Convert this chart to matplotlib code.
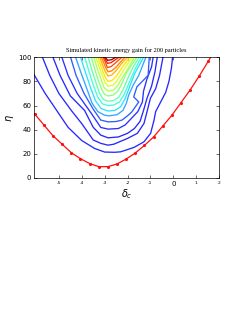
import matplotlib
matplotlib.use('Agg')
import matplotlib.pyplot as plt
import numpy as np

# red boundary curve (dots every 0.4 in delta_c)
red_x = [-6.06, -5.66, -5.26, -4.86, -4.46, -4.06, -3.66, -3.26, -2.86, -2.46, -2.06,
         -1.66, -1.26, -0.86, -0.46, -0.06, 0.34, 0.74, 1.14, 1.54, 1.94]
red_y = [53, 44, 35, 28, 21, 16, 12, 9.4, 9.4, 11.6, 15.7,
         20.7, 27, 34, 43, 52, 62.5, 73, 84.6, 97, 110]

# contour lines of the energy gain, lowest level first
contour_x = [
    [-6.1, -5.6, -5.1, -4.6, -4.0, -3.44, -3.0, -2.56, -2.3, -1.72, -1.28, -0.99, -0.84, -0.77, -0.55, -0.33, -0.19, -0.08, -0.03],
    [-5.72, -5.4, -5.0, -4.46, -4.0, -3.5, -3.17, -2.85, -2.6, -2.0, -1.57, -1.28, -1.13, -1.0, -0.77, -0.6, -0.45],
    [-5.26, -4.95, -4.5, -3.88, -3.5, -3.17, -2.85, -2.4, -2.0, -1.7, -1.45, -1.3, -1.15, -0.95, -0.8, -0.7],
    [-4.87, -4.6, -4.2, -3.6, -3.17, -2.85, -2.4, -2.1, -1.9, -1.55, -1.35, -1.3, -1.15, -0.95, -0.88],
    [-4.49, -4.25, -3.9, -3.5, -3.17, -2.85, -2.5, -2.24, -2.0, -1.81, -1.51, -1.73, -1.59, -1.1, -1.05],
    [-4.27, -4.05, -3.8, -3.55, -3.3, -3.0, -2.8, -2.45, -2.2, -2.05, -1.95, -1.75, -1.51, -1.2],
    [-4.05, -3.85, -3.6, -3.4, -3.15, -2.85, -2.55, -2.3, -2.1, -1.9, -1.7, -1.3],
    [-3.87, -3.68, -3.48, -3.3, -3.1, -2.85, -2.6, -2.35, -2.15, -1.95, -1.7, -1.4],
    [-3.72, -3.55, -3.38, -3.22, -3.05, -2.85, -2.6, -2.38, -2.2, -2.0, -1.78, -1.5],
    [-3.58, -3.43, -3.28, -3.12, -3.0, -2.85, -2.62, -2.42, -2.25, -2.05, -1.6],
    [-3.47, -3.33, -3.18, -3.03, -2.85, -2.62, -2.45, -2.1, -1.7],
    [-3.38, -3.24, -3.1, -2.98, -2.85, -2.65, -2.48, -2.15, -1.8],
    [-3.29, -3.17, -3.05, -2.95, -2.85, -2.68, -2.5, -2.2, -1.9],
    [-3.21, -3.1, -2.97, -2.85, -2.7, -2.52, -2.25, -2.0],
    [-3.14, -3.03, -2.93, -2.85, -2.7, -2.52, -2.12],
    [-3.07, -2.97, -2.88, -2.72, -2.55, -2.25],
    [-3.02, -2.93, -2.87, -2.72, -2.38],
    [-2.97, -2.87, -2.7, -2.52],
]
contour_y = [
    [86, 70, 56, 42, 31, 24.5, 21.5, 21.3, 21.7, 25.3, 30, 37, 48, 55, 63, 71, 80, 91, 100],
    [100, 85, 70, 56, 45, 31.5, 28.7, 27.2, 28, 32.8, 37, 45.2, 56.2, 66, 74, 85, 100],
    [100, 85, 68, 56, 42, 35.5, 33.3, 34, 37, 41, 47, 56, 66, 76, 88, 100],
    [100, 85, 70, 54, 41.9, 40.5, 41, 44, 48, 55, 63, 72, 82, 92, 100],
    [100, 85, 70, 57, 48, 46.5, 46.8, 48, 51.5, 54.8, 63, 67.2, 75.5, 85, 100],
    [100, 88, 75, 62, 55, 52, 51.5, 52.5, 56, 62, 68.6, 77, 85, 100],
    [100, 88, 74, 64, 57.5, 55.5, 56, 59, 66, 76, 86, 100],
    [100, 88, 76, 67, 61.5, 60, 60.5, 63, 69, 78, 89, 100],
    [100, 89, 79, 70, 65, 63.6, 64.2, 67, 73, 82, 91, 100],
    [100, 90, 81, 73, 69.2, 68, 68.8, 72, 78, 87, 100],
    [100, 91, 83, 75, 72, 72.8, 76, 87, 100],
    [100, 92, 85, 79, 76, 76.8, 80, 90, 100],
    [100, 93, 87, 82.5, 80, 80.8, 84, 92.5, 100],
    [100, 94, 88, 84.5, 85.2, 88.5, 95, 100],
    [100, 95, 90.5, 88, 88.7, 91.5, 100],
    [100, 96, 91.5, 92.3, 95, 100],
    [100, 97, 95, 95.6, 100],
    [100, 97.5, 98, 100],
]
# colour of each level (jet-like, lowest levels in blue)
level_colors = ['#2828ff', '#2828ff', '#2828ff', '#2a30ff', '#2f5cff', '#33a6ff',
                '#2fe0ff', '#40ffdc', '#6bffa6', '#8cff80', '#b0ff55', '#d8ff2c',
                '#ffe600', '#ffb400', '#ff8200', '#ff4c00', '#ff1a00', '#a00000']

xticks = [-5, -4, -3, -2, -1, 0, 1, 2]
yticks = [0, 20, 40, 60, 80, 100]

fig = plt.figure(figsize=(2.53, 3.27), dpi=100)
ax = fig.add_axes([34 / 253, (327 - 178) / 327, 185 / 253, 120.7 / 327])

for xs, ys, c in zip(contour_x, contour_y, level_colors):
    ax.plot(xs, ys, color=c, lw=0.95, solid_joinstyle='miter')

ax.plot(red_x, red_y, color='#ff1010', lw=0.9, marker='.', ms=2.5)

ax.set_xlim(-6.09, 2)
ax.set_ylim(0, 100)
ax.set_xticks(xticks)
ax.set_yticks(yticks)
ax.set_xticklabels([str(t) for t in xticks])
ax.tick_params(direction='in', top=True, right=True, length=2, width=0.4,
               labelsize=5, pad=2)
for lab in ax.get_xticklabels():
    if lab.get_text() != '0':
        lab.set_fontsize(3.2)
for s in ax.spines.values():
    s.set_linewidth(0.5)

ax.set_title('Simulated kinetic energy gain for 200 particles', fontsize=4.6,
             family='Liberation Serif', pad=4)
ax.set_xlabel(r'$\delta_c$', fontsize=7, labelpad=0)
ax.set_ylabel(r'$\eta$', fontsize=7, labelpad=1)

fig.savefig('out.png', dpi=100)
